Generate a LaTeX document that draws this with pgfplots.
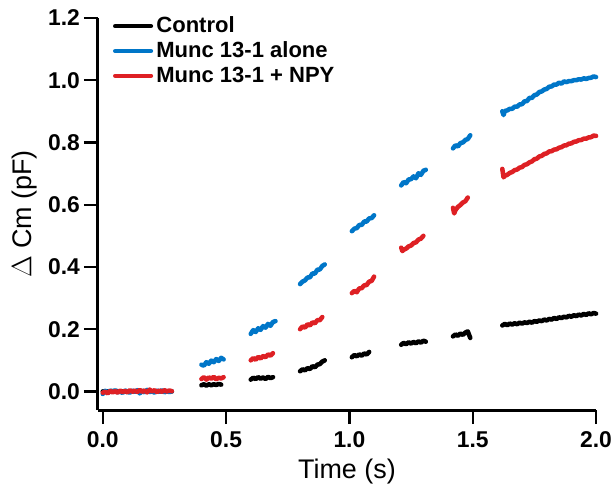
\documentclass[border=0pt]{standalone}
\usepackage{fontspec}
\setmainfont{Liberation Sans}
\usepackage{pgfplots}
\pgfplotsset{compat=1.18}
\usepackage{pgfplotstable}

\definecolor{munc}{RGB}{0,118,200}
\definecolor{npy}{RGB}{222,32,36}

% Control
\pgfplotstableread{
x y
0.00 0.000
0.05 0.001
0.10 -0.001
0.15 0.001
0.20 0.000
0.28 0.000
nan nan
0.40 0.020
0.41 0.023
0.42 0.019
0.43 0.023
0.44 0.020
0.45 0.023
0.46 0.021
0.47 0.024
0.48 0.022
nan nan
0.60 0.038
0.61 0.044
0.62 0.040
0.63 0.046
0.64 0.041
0.65 0.045
0.66 0.040
0.67 0.047
0.68 0.043
0.69 0.046
nan nan
0.80 0.065
0.81 0.071
0.82 0.068
0.83 0.075
0.84 0.072
0.85 0.081
0.86 0.078
0.87 0.086
0.88 0.088
0.89 0.096
0.90 0.100
nan nan
1.01 0.110
1.02 0.117
1.03 0.113
1.04 0.119
1.05 0.115
1.06 0.122
1.07 0.119
1.08 0.127
nan nan
1.21 0.150
1.22 0.156
1.23 0.152
1.24 0.158
1.25 0.154
1.26 0.159
1.27 0.155
1.28 0.161
1.29 0.157
1.30 0.163
1.31 0.160
nan nan
1.42 0.177
1.43 0.183
1.44 0.179
1.45 0.186
1.46 0.182
1.47 0.189
1.48 0.193
1.49 0.172
nan nan
1.62 0.212
1.63 0.217
1.64 0.213
1.65 0.218
1.66 0.215
1.67 0.219
1.68 0.216
1.69 0.221
1.70 0.218
1.71 0.222
1.72 0.220
1.73 0.224
1.74 0.221
1.75 0.226
1.76 0.224
1.77 0.228
1.78 0.226
1.79 0.231
1.80 0.228
1.81 0.233
1.82 0.231
1.83 0.236
1.84 0.233
1.85 0.238
1.86 0.236
1.87 0.240
1.88 0.238
1.89 0.243
1.90 0.240
1.91 0.245
1.92 0.242
1.93 0.247
1.94 0.244
1.95 0.249
1.96 0.246
1.97 0.251
1.98 0.248
1.99 0.252
2.00 0.250
}\control

% Munc 13-1 alone
\pgfplotstableread{
x y
0.00 -0.008
0.01 0.002
0.02 -0.004
0.03 0.003
0.04 -0.002
0.05 0.004
0.06 -0.003
0.07 0.001
0.08 -0.005
0.09 0.003
0.10 0.000
0.11 -0.004
0.12 0.003
0.13 -0.002
0.14 0.004
0.15 -0.006
0.16 0.002
0.17 -0.003
0.18 0.005
0.19 -0.002
0.20 0.001
0.21 -0.004
0.22 0.003
0.23 -0.001
0.24 0.004
0.25 -0.003
0.26 0.002
0.27 -0.002
0.28 0.001
nan nan
0.40 0.086
0.41 0.083
0.42 0.094
0.43 0.089
0.44 0.099
0.45 0.094
0.46 0.104
0.47 0.098
0.48 0.108
0.49 0.103
nan nan
0.60 0.185
0.61 0.197
0.62 0.191
0.63 0.203
0.64 0.198
0.65 0.210
0.66 0.205
0.67 0.217
0.68 0.211
0.69 0.223
0.70 0.226
nan nan
0.80 0.345
0.81 0.353
0.82 0.357
0.83 0.366
0.84 0.367
0.85 0.379
0.86 0.379
0.87 0.391
0.88 0.392
0.89 0.403
0.90 0.408
nan nan
1.01 0.515
1.02 0.523
1.03 0.525
1.04 0.535
1.05 0.535
1.06 0.546
1.07 0.546
1.08 0.556
1.09 0.557
1.10 0.566
nan nan
1.21 0.662
1.22 0.673
1.23 0.669
1.24 0.681
1.25 0.682
1.26 0.691
1.27 0.685
1.28 0.701
1.29 0.696
1.30 0.709
1.31 0.712
nan nan
1.42 0.781
1.43 0.791
1.44 0.787
1.45 0.798
1.46 0.800
1.47 0.808
1.48 0.811
1.49 0.823
nan nan
1.62 0.900
1.625 0.888
1.63 0.901
1.64 0.903
1.65 0.908
1.66 0.908
1.67 0.915
1.68 0.915
1.69 0.922
1.70 0.923
1.71 0.932
1.72 0.933
1.73 0.943
1.74 0.943
1.75 0.952
1.76 0.954
1.77 0.962
1.78 0.964
1.79 0.970
1.80 0.972
1.81 0.979
1.82 0.980
1.83 0.986
1.84 0.986
1.85 0.992
1.86 0.989
1.87 0.996
1.88 0.994
1.89 0.997
1.90 0.997
1.91 1.000
1.92 1.000
1.93 1.003
1.94 1.002
1.95 1.006
1.96 1.004
1.97 1.007
1.98 1.008
1.99 1.012
2.00 1.010
}\muncalone

% Munc 13-1 + NPY
\pgfplotstableread{
x y
0.00 -0.004
0.01 -0.001
0.02 -0.006
0.03 0.002
0.04 -0.003
0.05 0.001
0.06 -0.004
0.07 0.003
0.08 -0.002
0.09 0.002
0.10 -0.003
0.11 0.004
0.12 -0.001
0.13 0.003
0.14 -0.002
0.15 0.005
0.16 -0.001
0.17 0.003
0.18 -0.003
0.19 0.006
0.20 0.000
0.21 0.004
0.22 -0.002
0.23 0.003
0.24 -0.001
0.25 0.004
0.26 0.000
0.27 0.003
0.28 0.001
nan nan
0.40 0.040
0.41 0.046
0.42 0.038
0.43 0.045
0.44 0.041
0.45 0.047
0.46 0.039
0.47 0.044
0.48 0.042
0.49 0.046
nan nan
0.60 0.100
0.61 0.107
0.62 0.102
0.63 0.111
0.64 0.106
0.65 0.114
0.66 0.110
0.67 0.119
0.68 0.115
0.69 0.123
nan nan
0.80 0.200
0.81 0.209
0.82 0.205
0.83 0.216
0.84 0.212
0.85 0.222
0.86 0.219
0.87 0.229
0.88 0.229
0.89 0.239
nan nan
1.01 0.316
1.02 0.323
1.03 0.319
1.04 0.331
1.05 0.332
1.06 0.341
1.07 0.342
1.08 0.353
1.09 0.355
1.10 0.369
nan nan
1.21 0.462
1.215 0.451
1.22 0.455
1.23 0.459
1.24 0.466
1.25 0.469
1.26 0.477
1.27 0.479
1.28 0.488
1.29 0.491
1.30 0.500
nan nan
1.42 0.590
1.425 0.572
1.43 0.583
1.44 0.593
1.45 0.599
1.46 0.607
1.47 0.611
1.48 0.623
nan nan
1.62 0.715
1.625 0.688
1.63 0.693
1.64 0.696
1.65 0.702
1.66 0.705
1.67 0.711
1.68 0.713
1.69 0.719
1.70 0.721
1.71 0.728
1.72 0.730
1.73 0.736
1.74 0.739
1.75 0.746
1.76 0.748
1.77 0.755
1.78 0.757
1.79 0.763
1.80 0.765
1.81 0.771
1.82 0.772
1.83 0.777
1.84 0.778
1.85 0.783
1.86 0.785
1.87 0.790
1.88 0.791
1.89 0.796
1.90 0.797
1.91 0.802
1.92 0.803
1.93 0.807
1.94 0.808
1.95 0.812
1.96 0.812
1.97 0.816
1.98 0.817
1.99 0.822
2.00 0.821
}\muncnpy

\begin{document}
\begin{tikzpicture}
\begin{axis}[
    name=ax,
    scale only axis,
    width=305.5pt, height=240.5pt,
    xmin=-0.02, xmax=2.0,
    ymin=-0.06, ymax=1.2,
    axis x line*=bottom, axis y line*=left,
    axis line style={line width=1.8pt, black},
    xtick={0,0.5,1.0,1.5,2.0},
    ytick={0,0.2,0.4,0.6,0.8,1.0,1.2},
    xticklabel={\pgfmathprintnumber[fixed,fixed zerofill,precision=1,assume math mode=true]{\tick}},
    yticklabel={\pgfmathprintnumber[fixed,fixed zerofill,precision=1,assume math mode=true]{\tick}},
    ticklabel style={font=\bfseries\fontsize{14}{16}\selectfont},
    xticklabel style={yshift=-1pt},
    yticklabel style={xshift=1pt},
    tick align=outside,
    major tick length=8.5pt,
    tick style={line width=1.4pt, black},
    minor tick num=0,
    xlabel={Time (s)},
    ylabel={$\Delta$ Cm (pF)},
    xlabel style={font=\fontsize{16.5}{18}\selectfont, yshift=0pt},
    ylabel style={font=\fontsize{16.5}{18}\selectfont, yshift=0pt},
    unbounded coords=jump,
    clip=false,
    legend style={draw=none, fill=none, at={(rel axis cs:0.02,1.02)}, anchor=north west,
      font=\bfseries\fontsize{13.5}{15}\selectfont, row sep=0pt,
      legend cell align=left},
    legend image code/.code={\draw[#1, line width=2.6pt] (0pt,0pt) -- (22pt,0pt);},
    every axis plot/.append style={line join=round, line cap=round},
  ]
  \addplot[black, line width=2.8pt] table[x=x, y=y] {\control};
  \addlegendentry{Control}
  \addplot[munc, line width=2.8pt] table[x=x, y=y] {\muncalone};
  \addlegendentry{Munc 13-1 alone}
  \addplot[npy, line width=2.8pt] table[x=x, y=y] {\muncnpy};
  \addlegendentry{Munc 13-1 + NPY}
\end{axis}
\pgfresetboundingbox
\path ([shift={(-60pt,-46.6pt)}]ax.south west) rectangle ([shift={(10.4pt,11pt)}]ax.north east);
\end{tikzpicture}
\end{document}
